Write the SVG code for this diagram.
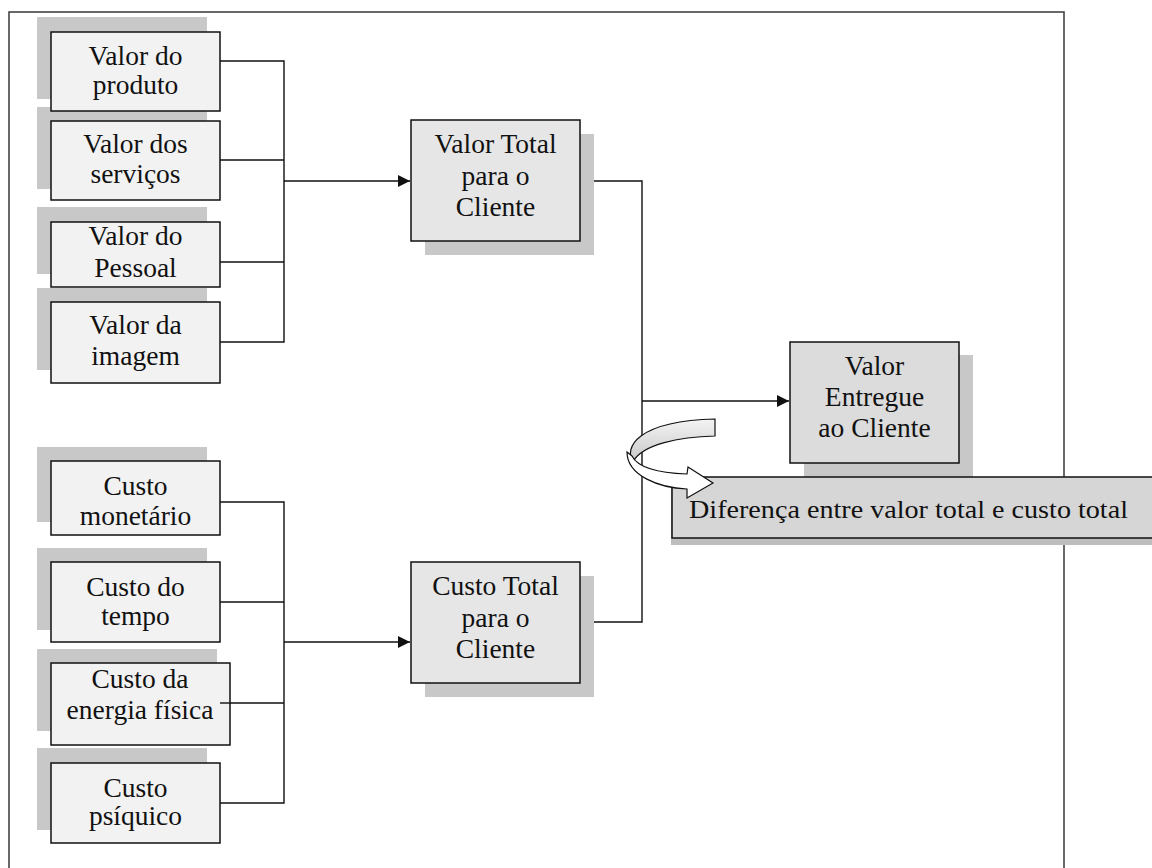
<svg xmlns="http://www.w3.org/2000/svg" width="1152" height="868" viewBox="0 0 1152 868">
<style>
.frame{fill:none;stroke:#444;stroke-width:1.6}
.sh{fill:#c8c8c8}
.b1{fill:#f2f2f2;stroke:#111;stroke-width:1.5}
.b2{fill:#e6e6e6;stroke:#111;stroke-width:1.5}
.b3{fill:#dcdcdc;stroke:#111;stroke-width:1.5}
.b4{fill:#d6d6d6;stroke:#111;stroke-width:1.5}
.t{font-family:"Liberation Serif","Times New Roman",serif;font-size:27.5px;fill:#111;text-anchor:middle}
.tl{font-family:"Liberation Serif","Times New Roman",serif;font-size:26px;fill:#111}
.c{fill:none;stroke:#111;stroke-width:1.4}
</style>
<defs>
<marker id="ar" viewBox="0 0 10 10" refX="10" refY="5" markerWidth="12" markerHeight="12" markerUnits="userSpaceOnUse" orient="auto">
<path d="M0,0 L10,5 L0,10 Z" fill="#111"/>
</marker>
<linearGradient id="rg" x1="0" y1="0" x2="0" y2="1">
<stop offset="0" stop-color="#f4f4f4"/>
<stop offset="1" stop-color="#c8c8c8"/>
</linearGradient>
</defs>
<rect width="1152" height="868" fill="#fff"/>
<rect class="frame" x="9" y="12" width="1055" height="880"/>

<g id="connectors">
<path class="c" d="M220,61 H284 V342 H220 M220,160 H284 M220,262 H284"/>
<path class="c" d="M284,181 H410" marker-end="url(#ar)"/>
<path class="c" d="M220,502 H284 V803 H220 M220,602 H284 M220,703 H284"/>
<path class="c" d="M284,642 H410" marker-end="url(#ar)"/>
<path class="c" d="M580,181 H642 V622 H580"/>
<path class="c" d="M642,401 H789" marker-end="url(#ar)"/>
</g>

<g id="n-valor-imagem">
<rect class="sh" x="37" y="288" width="170" height="82"/>
<rect class="b1" x="51" y="302" width="169" height="81"/>
<text class="t" x="135.5" y="334">Valor da</text>
<text class="t" x="135.5" y="365">imagem</text>
</g>
<g id="n-valor-pessoal">
<rect class="sh" x="37" y="207" width="170" height="67"/>
<rect class="b1" x="51" y="222" width="169" height="65"/>
<text class="t" x="135.5" y="245">Valor do</text>
<text class="t" x="135.5" y="277">Pessoal</text>
</g>
<g id="n-valor-servicos">
<rect class="sh" x="37" y="107" width="170" height="82"/>
<rect class="b1" x="51" y="121" width="169" height="79"/>
<text class="t" x="135.5" y="153">Valor dos</text>
<text class="t" x="135.5" y="183">serviços</text>
</g>
<g id="n-valor-produto">
<rect class="sh" x="37" y="17" width="170" height="82"/>
<rect class="b1" x="51" y="32" width="169" height="79"/>
<text class="t" x="135.5" y="65">Valor do</text>
<text class="t" x="135.5" y="94">produto</text>
</g>

<g id="n-custo-psiquico">
<rect class="sh" x="37" y="748" width="170" height="82"/>
<rect class="b1" x="51" y="763" width="169" height="80"/>
<text class="t" x="135.5" y="797">Custo</text>
<text class="t" x="135.5" y="825">psíquico</text>
</g>
<g id="n-custo-energia">
<rect class="sh" x="37" y="649" width="180" height="82"/>
<rect class="b1" x="51" y="663" width="179" height="82"/>
<text class="t" x="140" y="688">Custo da</text>
<text class="t" x="140" y="719">energia física</text>
<path class="c" d="M220,703 H230"/>
</g>
<g id="n-custo-tempo">
<rect class="sh" x="37" y="548" width="170" height="82"/>
<rect class="b1" x="51" y="562" width="169" height="80"/>
<text class="t" x="135.5" y="596">Custo do</text>
<text class="t" x="135.5" y="625">tempo</text>
</g>
<g id="n-custo-monetario">
<rect class="sh" x="37" y="447" width="170" height="75"/>
<rect class="b1" x="51" y="461" width="169" height="74"/>
<text class="t" x="135.5" y="495">Custo</text>
<text class="t" x="135.5" y="525">monetário</text>
</g>

<g id="n-valor-total">
<rect class="sh" x="425" y="134" width="169" height="121"/>
<rect class="b2" x="411" y="120" width="169" height="121"/>
<text class="t" x="495.5" y="153">Valor Total</text>
<text class="t" x="495.5" y="185">para o</text>
<text class="t" x="495.5" y="216">Cliente</text>
</g>
<g id="n-custo-total">
<rect class="sh" x="425" y="576" width="169" height="121"/>
<rect class="b2" x="411" y="562" width="169" height="121"/>
<text class="t" x="495.5" y="595">Custo Total</text>
<text class="t" x="495.5" y="627">para o</text>
<text class="t" x="495.5" y="658">Cliente</text>
</g>
<g id="n-valor-entregue">
<rect class="sh" x="804" y="355" width="169" height="122"/>
<rect class="b3" x="790" y="342" width="169" height="121"/>
<text class="t" x="874.5" y="375">Valor</text>
<text class="t" x="874.5" y="406">Entregue</text>
<text class="t" x="874.5" y="437">ao Cliente</text>
</g>

<g id="n-diferenca">
<rect fill="#bdbdbd" x="671" y="484" width="490" height="61"/>
<rect class="b4" x="672" y="477" width="490" height="61"/>
<text class="tl" x="689" y="518" textLength="439" lengthAdjust="spacingAndGlyphs">Diferença entre valor total e custo total</text>
</g>

<g id="ribbon-arrow">
<path d="M715,419 L715,436 C680,437 642,444 633,462 C624,448 636,421 715,419 Z" fill="url(#rg)" stroke="#111" stroke-width="1.2"/>
<path d="M627,452 C627,476 660,488 687,489 L687,498 L713,483 L688,467 L687,474 C660,473 638,468 632,456 Z" fill="#fff" stroke="#111" stroke-width="1.2"/>
</g>
</svg>
